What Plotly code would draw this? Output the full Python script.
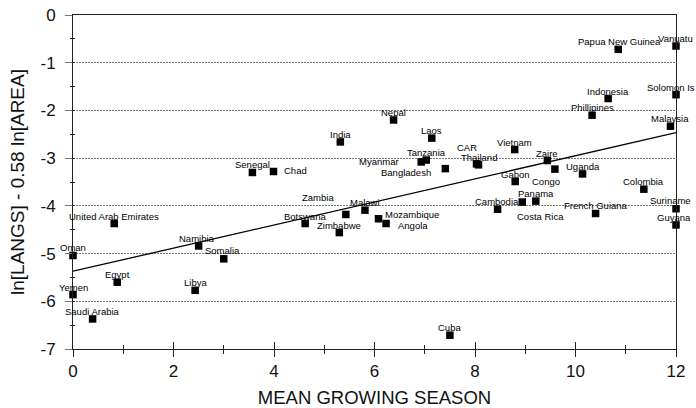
import plotly.graph_objects as go

# ---------------- data ----------------
COUNTRIES = [
    "Vanuatu", "Papua New Guinea", "Indonesia", "Solomon Is", "Phillipines", "Malaysia",
    "Nepal", "India", "Laos", "Vietnam", "CAR", "Thailand", "Tanzania", "Myanmar",
    "Bangladesh", "Senegal", "Chad", "Zaire", "Congo", "Uganda", "Gabon", "Colombia",
    "Panama", "Costa Rica", "Cambodia", "French Guiana", "Suriname", "Guyana",
    "Zambia", "Malawi", "Botswana", "Zimbabwe", "Mozambique", "Angola",
    "United Arab Emirates", "Oman", "Namibia", "Somalia", "Egypt", "Yemen", "Libya",
    "Saudi Arabia", "Cuba",
]
GROWING_SEASON = [
    12.0, 10.85, 10.65, 12.0, 10.33, 11.89,
    6.38, 5.32, 7.14, 8.79, 8.03, 8.07, 7.03, 6.93,
    7.41, 3.57, 3.99, 9.44, 9.59, 10.14, 8.80, 11.36,
    9.21, 8.94, 8.45, 10.40, 12.0, 12.0,
    5.43, 5.81, 4.62, 5.30, 6.08, 6.23,
    0.82, 0.0, 2.50, 3.00, 0.88, 0.0, 2.43,
    0.39, 7.50,
]
LANG_DENSITY = [
    -0.65, -0.72, -1.75, -1.67, -2.10, -2.33,
    -2.20, -2.66, -2.58, -2.82, -3.12, -3.14, -3.04, -3.08,
    -3.22, -3.30, -3.28, -3.05, -3.23, -3.33, -3.49, -3.65,
    -3.90, -3.92, -4.07, -4.16, -4.06, -4.40,
    -4.18, -4.09, -4.37, -4.56, -4.27, -4.37,
    -4.37, -5.04, -4.84, -5.11, -5.60, -5.86, -5.77,
    -6.37, -6.71,
]
FIT_INTERCEPT = -5.37
FIT_SLOPE = 0.242
FIT_X_RANGE = [0, 12]

X_TICKS = [0, 2, 4, 6, 8, 10, 12]
Y_TICKS = [0, -1, -2, -3, -4, -5, -6, -7]

# ---------------- label placement (pixel offsets, style only) ----------------
DEFAULT_OFFSET = (0, -7.5, "center")
LABEL_OFFSETS = {
    "Vanuatu": (-1, -7.5, "center"),
    "Papua New Guinea": (1, -7.5, "center"),
    "Solomon Is": (-5, -7.5, "center"),
    "Suriname": (-6, -8, "center"),
    "Guyana": (-2, -7, "center"),
    "Namibia": (-2, -7.5, "center"),
    "Somalia": (-1, -8, "center"),
    "Zambia": (-28, -17, "center"),
    "Chad": (8, -1.5, "left"),
    "Myanmar": (-20, -0.7, "right"),
    "Bangladesh": (-12, 3.7, "right"),
    "CAR": (-10, -16.6, "center"),
    "Congo": (-9, 12, "center"),
    "Costa Rica": (18, 14, "center"),
    "Mozambique": (4, -4.4, "left"),
    "Angola": (10, 2, "left"),
    "Cambodia": (-1, -8, "center"),
}

FONT = "Liberation Sans, Arial, sans-serif"

fig = go.Figure()

# regression line
fit_y = [FIT_INTERCEPT + FIT_SLOPE * x for x in FIT_X_RANGE]
fig.add_trace(go.Scatter(
    x=FIT_X_RANGE, y=fit_y, mode="lines",
    line=dict(color="black", width=1.3), showlegend=False, hoverinfo="skip",
))

# country markers
fig.add_trace(go.Scatter(
    x=GROWING_SEASON, y=LANG_DENSITY, mode="markers",
    marker=dict(symbol="square", size=7.5, color="black", line=dict(width=0)),
    cliponaxis=False, showlegend=False, text=COUNTRIES,
))

# dummy trace for the overlay axes (inside ticks)
fig.add_trace(go.Scatter(x=[None], y=[None], xaxis="x2", yaxis="y2",
                         showlegend=False, hoverinfo="skip"))

for name, x, y in zip(COUNTRIES, GROWING_SEASON, LANG_DENSITY):
    dx, dy, anchor = LABEL_OFFSETS.get(name, DEFAULT_OFFSET)
    fig.add_annotation(
        x=x, y=y, text=name, showarrow=False,
        xshift=dx, yshift=-dy, xanchor=anchor, yanchor="middle",
        font=dict(family=FONT, size=9.5, color="black"),
    )

axis_line = "#222"
fig.update_layout(
    width=696, height=408,
    margin=dict(l=73, r=20, t=15, b=59),
    paper_bgcolor="white", plot_bgcolor="white",
    font=dict(family=FONT, color="#111"),
    xaxis=dict(
        range=[0, 12], tickvals=X_TICKS, ticktext=[str(v) for v in X_TICKS],
        automargin=False,
        showgrid=False, zeroline=False,
        showline=True, linecolor=axis_line, linewidth=1, mirror=True,
        ticks="outside", ticklen=7, tickcolor=axis_line, tickwidth=1,
        minor=dict(dtick=1, ticks="outside", ticklen=4, tickcolor=axis_line),
        tickfont=dict(size=17, family=FONT, color="#111"),
        title=dict(text="MEAN GROWING SEASON", font=dict(size=18.5, family=FONT, color="#111"),
                   standoff=11),
    ),
    yaxis=dict(
        range=[-7, 0], tickvals=Y_TICKS, ticktext=[str(v) for v in Y_TICKS],
        automargin=False,
        showgrid=True, gridcolor="#777", griddash="2px,1px", gridwidth=1,
        zeroline=False,
        showline=True, linecolor=axis_line, linewidth=1, mirror=True,
        ticks="outside", ticklen=7, tickcolor="#777", tickwidth=1,
        ticklabelstandoff=6,
        minor=dict(dtick=0.5, ticks="outside", ticklen=2, tickcolor=axis_line),
        tickfont=dict(size=17, family=FONT, color="#111"),
        title=dict(text="ln[LANGS] - 0.58 ln[AREA]", font=dict(size=19, family=FONT, color="#111"),
                   standoff=10),
    ),
    xaxis2=dict(
        overlaying="x", matches="x", side="bottom", range=[0, 12], tickvals=X_TICKS,
        automargin=False,
        showticklabels=False, showgrid=False, zeroline=False, showline=False,
        ticks="inside", ticklen=7, tickcolor=axis_line,
        minor=dict(dtick=1, ticks="inside", ticklen=4, tickcolor=axis_line),
    ),
    yaxis2=dict(
        overlaying="y", matches="y", side="left", range=[-7, 0], tickvals=Y_TICKS,
        automargin=False,
        showticklabels=False, showgrid=False, zeroline=False, showline=False,
        ticks="inside", ticklen=1, tickcolor=axis_line,
        minor=dict(dtick=0.5, ticks="inside", ticklen=2, tickcolor=axis_line),
    ),
)

fig.write_html("out.html", config={"displayModeBar": False},
               post_script="document.body.style.margin='0';")
